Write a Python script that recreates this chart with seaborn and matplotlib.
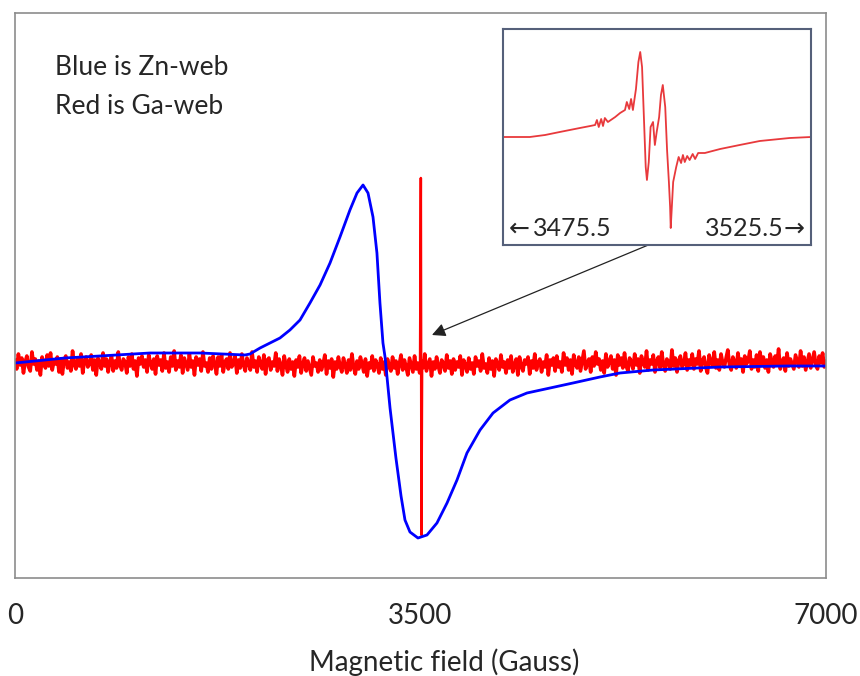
import numpy as np
import pandas as pd
import seaborn as sns
import matplotlib.pyplot as plt
from matplotlib.ticker import MultipleLocator

# Zn-web (blue) spectrum
zn_field = [0, 430, 730, 1165, 1600, 1985, 2028, 2115, 2201, 2287, 2373, 2460,
            2546, 2633, 2719, 2805, 2891, 2952, 3004, 3047, 3090, 3124, 3150,
            3176, 3194, 3237, 3288, 3332, 3366, 3409, 3478, 3556, 3642, 3729,
            3815, 3901, 4014, 4126, 4272, 4419, 4618, 4816, 5049, 5222, 5507,
            6085, 6663, 7000]
zn_signal = [0, 5, 7, 10, 10, 8, 9, 15, 20, 25, 33, 43,
             60, 78, 100, 126, 153, 170, 178, 170, 146, 110, 60,
             20, 6, -45, -95, -133, -157, -169, -175, -172, -160, -140,
             -117, -90, -67, -50, -37, -30, -25, -20, -14, -10, -7,
             -4, -3, -3]

# Ga-web (red) trace: noise over an even sweep 0-7000 G, plus the narrow line
ga_noise = [
    3, -6, 9, -2, 5, -10, 1, 7, -4, -8, 11, -1, 4, -7, 2, -12, 6, 0, -5, 8,
    -3, 10, -7, 2, -1, 6, -9, 4, -11, 3, 7, -5, 1, -8, 12, -2, -6, 5, -3, 9,
    -10, 2, 6, -4, -1, 8, -7, 3, -12, 5, 0, -6, 10, -3, 4, -9, 1, 7, -8, 2,
    -5, 11, -2, -7, 4, 1, -10, 6, -3, 9, -6, 2, -13, 5, -1, 7, -4, 3, -9, 8,
    0, -6, 4, -11, 7, -2, 3, -8, 10, -5, 1, -9, 6, -3, 12, -7, 2, -4, 8, -10,
    5, -1, -7, 9, -4, 2, -12, 6, -2, 4, -8, 11, -3, 0, -9, 5, -6, 7, -1, -11,
    6, -3, 8, -9, 1, 4, -6, 10, -4, -1, 7, -10, 3, -5, 9, -2, -8, 5, 0, -7,
    11, -4, 2, -9, 6, -1, -6, 8, -11, 3, 5, -7, 1, -3, 10, -8, 4, -2, -12, 7,
    -2, -9, 4, -6, 1, -13, 3, -4, 7, -10, -1, 5, -8, 2, -5, -12, 6, -3, 0, -9,
    3, -7, -1, 8, -11, 2, -5, 4, -14, 1, -6, 6, -3, -9, 5, -2, -10, 3, -7, 9,
    -4, -11, 2, -6, 6, -1, -9, 4, -13, 0, -5, 7, -8, 3, -2, -10, 5, -6, 1, -12,
    4, -3, -8, 6, -5, 2, -11, -1, 8, -7, 3, -4, -12, 5, -2, -9, 7, -6, 0, -10,
    2, -5, 9, -8, -2, 4, -13, 1, -6, 6, -3, -10, 3, -1, -8, 8, -5, 2, -11, 4,
    -7, 1, -4, 7, -12, 3, -2, -9, 5, -6, 0, -11, 6, -3, 2, -8, 9, -5, -1, -10,
    5, -6, 2, -13, 4, -1, -7, 8, -4, 1, -10, 3, -5, 7, -9, -2, 4, -12, 6, -3,
    -8, 3, -1, 6, -11, 2, -5, 9, -7, 0, 4, -9, 1, -4, 8, -12, 3, -2, 5, -8,
    7, -4, 1, -9, 10, -2, 5, -7, 3, -11, 8, -1, -5, 6, -8, 2, 12, -6, 0, 4,
    -9, 6, -3, 11, -1, 4, -7, 2, -10, 9, -4, 1, 7, -6, 3, -12, 8, -2, 5, -5,
    10, -3, -8, 5, 1, -6, 9, -2, 4, -10, 7, 0, -4, 12, -7, 3, -1, 8, -9, 2,
    6, -5, 11, -2, -8, 4, 1, -6, 13, -3, 5, -9, 2, 7, -4, -1, 10, -7, 3, -2,
    9, -6, 4, -1, 12, -8, 2, 6, -4, -10, 8, 1, -3, 11, -5, 3, -7, 9, 0, -4,
    5, 13, -2, -7, 6, 1, -5, 10, -3, 4, -9, 7, -1, 2, 12, -6, 3, -4, 8, -8,
    11, -1, 6, -5, 3, -9, 9, 2, -4, 7, -2, 14, -6, 1, 5, -8, 10, -3, 4, -1,
    -6, 8, 2, -4, 12, -3, 6, -7, 1, 9, -5, 3, 11, -2, -6, 7, 0, 10, -4, 2]
ga_spike_field = [3496, 3503, 3508, 3514]
ga_spike_signal = [-3, 185, -172, -2]

# inset: Ga-web line between 3475.5 and 3525.5 G
inset_field = [3475.5, 3479.9, 3482.4, 3484.8, 3488.1, 3489.8, 3490.6, 3490.9,
               3491.2, 3491.6, 3491.9, 3492.2, 3492.7, 3493.9, 3494.7, 3495.5,
               3495.8, 3496.2, 3496.5, 3496.8, 3497.3, 3497.7, 3498.0, 3498.3,
               3498.6, 3498.9, 3499.1, 3499.4, 3499.7, 3500.1, 3500.4, 3500.7,
               3501.1, 3501.4, 3501.7, 3502.1, 3502.4, 3502.7, 3502.9, 3503.0,
               3503.4, 3503.9, 3504.3, 3504.7, 3505.0, 3505.3, 3505.7, 3506.1,
               3506.6, 3507.0, 3507.5, 3508.6, 3511.1, 3514.3, 3517.6, 3522.5,
               3526.0]
inset_signal = [0, 0, 2, 5, 9, 11, 12, 17,
                10, 18, 11, 19, 15, 20, 24, 27,
                35, 28, 38, 27, 48, 75, 85, 70,
                20, -30, -43, -25, 10, 15, -8, 5,
                20, 42, 52, 30, -13, -45, -70, -91,
                -45, -30, -20, -26, -18, -25, -19, -23,
                -17, -22, -16, -16, -12, -8, -4, -1,
                0]

x_ticks = [0, 3500, 7000]
x_tick_labels = ['0', '3500', '7000']

sns.set_style('white')
plt.rcParams['font.family'] = ['Lato', 'DejaVu Sans']

ga = pd.DataFrame({'field': np.linspace(0, 7000, len(ga_noise)), 'signal': ga_noise})
spike = pd.DataFrame({'field': ga_spike_field, 'signal': ga_spike_signal})
zn = pd.DataFrame({'field': zn_field, 'signal': zn_signal})
ins = pd.DataFrame({'field': inset_field, 'signal': inset_signal})

fig = plt.figure(figsize=(8.6, 6.76), dpi=100)
ax = fig.add_axes([15 / 860, 1 - 578 / 676, 811 / 860, 565 / 676])

sns.lineplot(data=ga, x='field', y='signal', ax=ax, color='#ff0000', lw=2.6,
             estimator=None)
sns.lineplot(data=spike, x='field', y='signal', ax=ax, color='#ff0000', lw=1.8,
             estimator=None)
sns.lineplot(data=zn, x='field', y='signal', ax=ax, color='#0000ff', lw=2.0,
             estimator=None)

ax.set_xlim(0, 7000)
ax.set_ylim(-215, 350)
ax.set_yticks([])
ax.set_xticks(x_ticks)
ax.set_xticklabels(x_tick_labels)
ax.xaxis.set_minor_locator(MultipleLocator(500))
ax.tick_params(axis='x', which='major', direction='in', length=9, width=1,
               color='#808080', labelsize=20, pad=18)
ax.tick_params(axis='x', which='minor', direction='in', length=6, width=1,
               color='#808080')
ax.set_xlabel('')
ax.set_ylabel('')
for s in ax.spines.values():
    s.set_color('#8c8c8c')
    s.set_linewidth(1.2)

fig.text(0.5 * (303 + 585) / 860, 1 - 662 / 676, 'Magnetic field (Gauss)',
         fontsize=20, ha='center', va='center')
fig.text(55 / 860, 1 - 75 / 676, 'Blue is Zn-web', fontsize=19, va='baseline')
fig.text(55 / 860, 1 - 114 / 676, 'Red is Ga-web', fontsize=19, va='baseline')

# inset
axins = fig.add_axes([503 / 860, 1 - 245 / 676, 308 / 860, 216 / 676])
sns.lineplot(data=ins, x='field', y='signal', ax=axins, color='#e8393c', lw=1.3,
             estimator=None)
axins.set_xlim(3475.5, 3526.0)
axins.set_ylim(-108, 108)
axins.set_xticks([])
axins.set_yticks([])
axins.set_xlabel('')
axins.set_ylabel('')
for s in axins.spines.values():
    s.set_color('#55607a')
    s.set_linewidth(1.5)
axins.text(0.02, 0.075, '\u2190', transform=axins.transAxes, fontsize=18,
           ha='left', va='center', family='DejaVu Sans')
axins.text(0.098, 0.075, '3475.5', transform=axins.transAxes, fontsize=18,
           ha='left', va='center')
axins.text(0.91, 0.075, '3525.5', transform=axins.transAxes, fontsize=18,
           ha='right', va='center')
axins.text(0.98, 0.075, '\u2192', transform=axins.transAxes, fontsize=18,
           ha='right', va='center', family='DejaVu Sans')

ax.annotate('', xy=(3599, 28), xycoords=ax.transData,
            xytext=(3500.9, -104), textcoords=axins.transData,
            arrowprops=dict(arrowstyle='-|>', color='#222222', lw=0.9,
                            mutation_scale=20, shrinkA=0, shrinkB=0))

fig.savefig('out.png', dpi=100)
